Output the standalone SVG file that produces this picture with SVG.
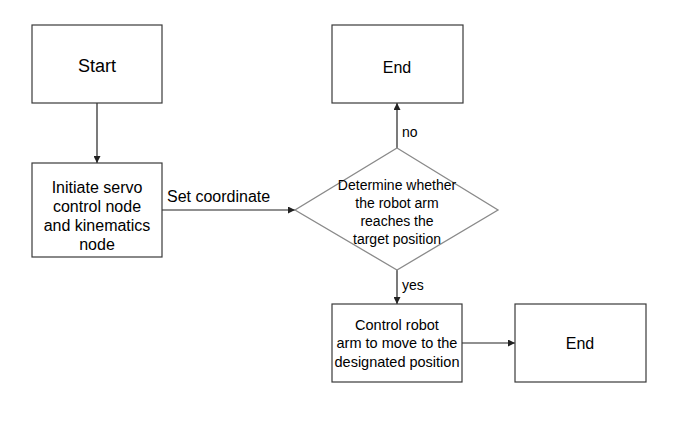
<svg xmlns="http://www.w3.org/2000/svg" width="680" height="426" viewBox="0 0 680 426">
<style>
.box{fill:#fff;stroke:#3a3a3a;stroke-width:1.2}
.dia{fill:#fff;stroke:#8a8a8a;stroke-width:1.3}
.t{font-family:"Liberation Sans",Arial,sans-serif;fill:#000;text-anchor:middle}
.lbl{font-family:"Liberation Sans",Arial,sans-serif;fill:#000}
.c{stroke:#222;stroke-width:1.2;fill:none;marker-end:url(#ah)}
</style>
<defs>
<marker id="ah" viewBox="0 0 10 10" refX="10" refY="5" markerWidth="7" markerHeight="7" markerUnits="userSpaceOnUse" orient="auto">
<path d="M0,0 L10,5 L0,10 z" fill="#222"/>
</marker>
</defs>
<rect width="680" height="426" fill="#fff"/>
<g id="connectors">
<line class="c" x1="97" y1="103" x2="97" y2="163"/>
<line class="c" x1="162" y1="210" x2="295" y2="210"/>
<line class="c" x1="397" y1="148" x2="397" y2="103"/>
<line class="c" x1="397" y1="270" x2="397" y2="304"/>
<line class="c" x1="462" y1="343" x2="515" y2="343"/>
<text class="lbl" x="167" y="202" font-size="16">Set coordinate</text>
<text class="lbl" x="402" y="137" font-size="14">no</text>
<text class="lbl" x="402" y="290" font-size="14">yes</text>
</g>
<g id="start">
<rect class="box" x="32" y="25" width="130" height="78"/>
<text class="t" x="97" y="72" font-size="18">Start</text>
</g>
<g id="init">
<rect class="box" x="32" y="163" width="130" height="94"/>
<text class="t" x="97" y="193" font-size="16">Initiate servo</text>
<text class="t" x="97" y="212" font-size="16">control node</text>
<text class="t" x="97" y="231" font-size="16">and kinematics</text>
<text class="t" x="97" y="250" font-size="16">node</text>
</g>
<g id="decision">
<polygon class="dia" points="397,148 498,210 397,270 295,210"/>
<text class="t" x="397" y="190" font-size="14">Determine whether</text>
<text class="t" x="397" y="208" font-size="14">the robot arm</text>
<text class="t" x="397" y="226" font-size="14">reaches the</text>
<text class="t" x="397" y="244" font-size="14">target position</text>
</g>
<g id="end1">
<rect class="box" x="332" y="25" width="131" height="78"/>
<text class="t" x="397" y="73" font-size="16">End</text>
</g>
<g id="control">
<rect class="box" x="332" y="304" width="130" height="78"/>
<text class="t" x="397" y="330" font-size="14.5">Control robot</text>
<text class="t" x="397" y="348" font-size="14.5">arm to move to the</text>
<text class="t" x="397" y="367" font-size="14.5">designated position</text>
</g>
<g id="end2">
<rect class="box" x="515" y="304" width="131" height="78"/>
<text class="t" x="580" y="349" font-size="16">End</text>
</g>
</svg>
